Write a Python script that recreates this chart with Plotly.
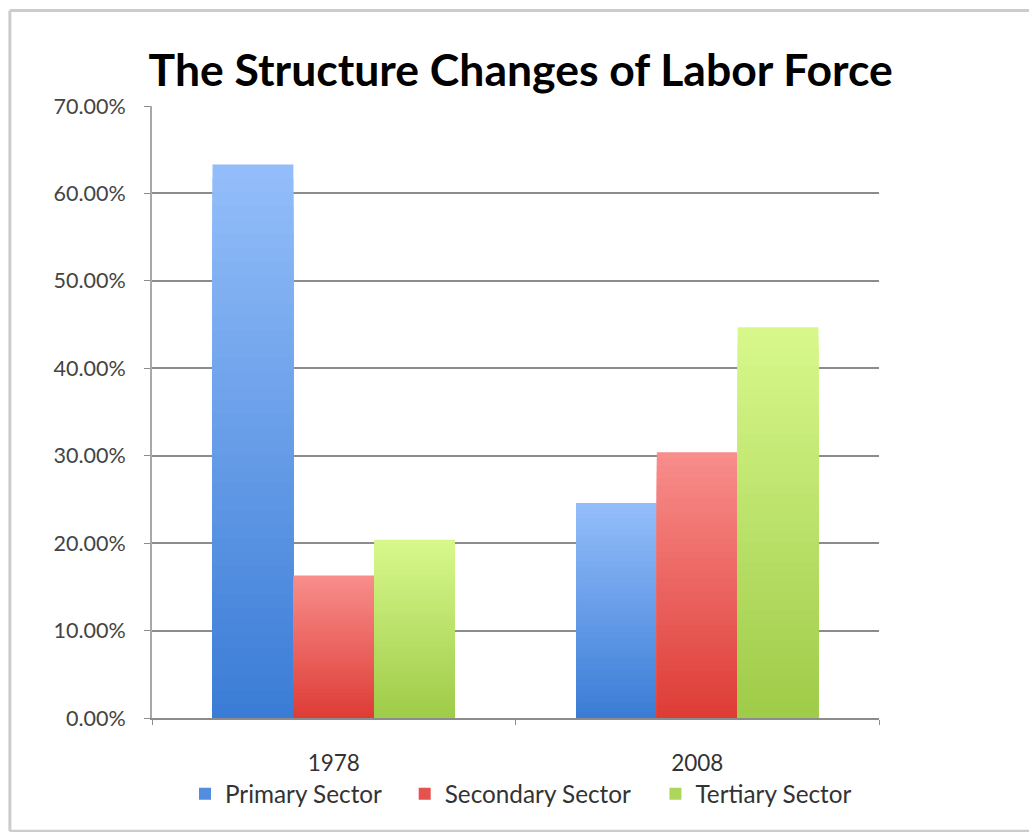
import numpy as np
import plotly.graph_objects as go

# Labor force shares by sector (%)
years = ["1978", "2008"]
sectors = ["Primary Sector", "Secondary Sector", "Tertiary Sector"]
primary = [63.3, 24.6]
secondary = [16.3, 30.4]
tertiary = [20.4, 44.7]
y_ticks = [0, 10, 20, 30, 40, 50, 60, 70]

values = {
    "Primary Sector": primary,
    "Secondary Sector": secondary,
    "Tertiary Sector": tertiary,
}

# Gradient end colours (bottom -> top) for each sector
grad_bottom = {
    "Primary Sector": (58, 124, 214),
    "Secondary Sector": (222, 60, 54),
    "Tertiary Sector": (158, 203, 72),
}
grad_top = {
    "Primary Sector": (148, 190, 250),
    "Secondary Sector": (248, 142, 140),
    "Tertiary Sector": (216, 248, 140),
}

# each sector gets its own legend box so the entries can be spaced freely
legend_ids = {
    "Primary Sector": "legend",
    "Secondary Sector": "legend2",
    "Tertiary Sector": "legend3",
}
legend_x = {"legend": 0.0454, "legend2": 0.3476, "legend3": 0.6925}

N_STEPS = 40
LEGEND_STEP = N_STEPS // 4


def mix(c0, c1, t):
    r, g, b = (int(round(a + (b_ - a) * t)) for a, b_ in zip(c0, c1))
    return f"rgb({r},{g},{b})"


fig = go.Figure()
for s in sectors:
    vals = np.array(values[s]) / 100.0
    # overlaid bars of shrinking height: lightest full bar first, darkest shortest last
    for k in range(N_STEPS):
        frac = (N_STEPS - k) / N_STEPS
        t = (N_STEPS - k - 0.5) / N_STEPS
        fig.add_trace(
            go.Bar(
                x=years,
                y=vals * frac,
                offsetgroup=s,
                name=s,
                legend=legend_ids[s],
                showlegend=(k == N_STEPS - 1 - LEGEND_STEP),
                marker=dict(color=mix(grad_bottom[s], grad_top[s], t), line=dict(width=0)),
                hoverinfo="skip",
            )
        )

legend_style = dict(
    orientation="h",
    xanchor="left",
    y=-0.124,
    yanchor="middle",
    font=dict(family="Lato", size=24.3, color="#333333"),
    bgcolor="rgba(0,0,0,0)",
)

# outer chart frame: top, left and bottom edges
frame_line = dict(color="#cccccc", width=3)
frame = [
    dict(type="line", xref="paper", yref="paper", x0=-0.1955, x1=1.3, y0=1.156, y1=1.156, line=frame_line, layer="below"),
    dict(type="line", xref="paper", yref="paper", x0=-0.1955, x1=-0.1955, y0=-0.185, y1=1.156, line=frame_line, layer="below"),
    dict(type="line", xref="paper", yref="paper", x0=-0.1955, x1=1.3, y0=-0.185, y1=-0.185, line=frame_line, layer="below"),
]

fig.update_layout(
    width=1029,
    height=832,
    margin=dict(l=152, r=150, t=106, b=114),
    paper_bgcolor="white",
    plot_bgcolor="white",
    barmode="group",
    bargap=0.333,
    bargroupgap=0,
    font=dict(family="Lato", color="#333333"),
    title=dict(
        text="<b>The Structure Changes of Labor Force</b>",
        font=dict(family="Lato", size=44.5, color="#000000"),
        x=0.506,
        xanchor="center",
        y=1 - 70 / 832,
        yanchor="middle",
        yref="container",
    ),
    legend=dict(x=legend_x["legend"], **legend_style),
    legend2=dict(x=legend_x["legend2"], **legend_style),
    legend3=dict(x=legend_x["legend3"], **legend_style),
    shapes=frame,
)

fig.update_yaxes(
    range=[0, 0.7],
    tickvals=[v / 100 for v in y_ticks],
    ticktext=[f"{v:.2f}%" for v in y_ticks],
    showgrid=True,
    gridcolor="#8c8c8c",
    gridwidth=1.5,
    zeroline=False,
    showline=True,
    linecolor="#a8a8a8",
    linewidth=2,
    ticks="outside",
    ticklen=6,
    tickcolor="#8c8c8c",
    tickfont=dict(family="Lato", size=21.5, color="#444444"),
    ticklabelstandoff=14,
)
fig.update_xaxes(
    showline=True,
    linecolor="#8c8c8c",
    linewidth=1.5,
    ticks="outside",
    tickson="boundaries",
    ticklen=5,
    tickcolor="#8c8c8c",
    tickfont=dict(family="Lato", size=22.5, color="#333333"),
    ticklabelstandoff=24,
)

fig.write_html("out.html")
